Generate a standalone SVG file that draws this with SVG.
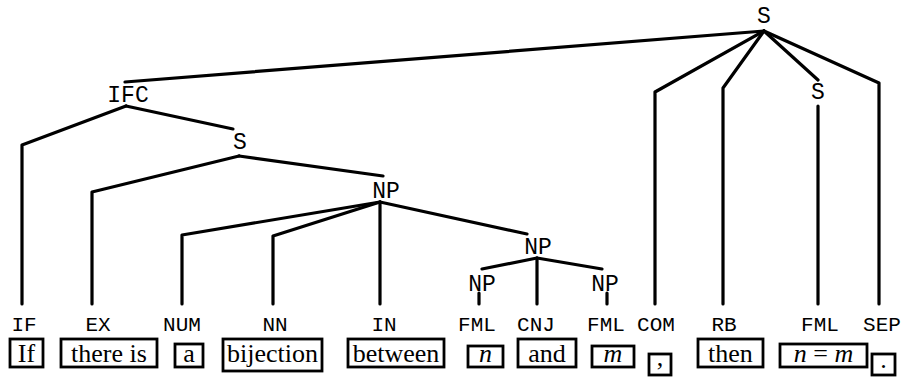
<svg xmlns="http://www.w3.org/2000/svg" width="902" height="378" viewBox="0 0 902 378">
<style>
.edge{stroke:#000;stroke-width:3.2;fill:none;stroke-linecap:round;stroke-linejoin:round}
.lbl{font-family:"Liberation Mono",monospace;font-size:23px;text-anchor:middle;fill:#000}
.tag{font-family:"Liberation Mono",monospace;font-size:21px;text-anchor:middle;fill:#000}
.box{fill:#fff;stroke:#000;stroke-width:2.8}
.word{font-family:"Liberation Serif",serif;font-size:26px;text-anchor:middle;fill:#000}
.math{font-style:italic}
</style>
<rect width="902" height="378" fill="#fff"/>
<g id="connectors">
<path class="edge" d="M764,31 L125,82"/>
<path class="edge" d="M764,31 L655,92 L655,304"/>
<path class="edge" d="M764,31 L723,88 L723,304"/>
<path class="edge" d="M764,31 L818,80"/>
<path class="edge" d="M818,106 L818,304"/>
<path class="edge" d="M764,31 L879,83 L879,304"/>
<path class="edge" d="M126,106 L22,145 L22,304"/>
<path class="edge" d="M126,106 L233,129"/>
<path class="edge" d="M239,156 L92,192 L92,304"/>
<path class="edge" d="M239,156 L383,176"/>
<path class="edge" d="M380,202 L182,235 L182,304"/>
<path class="edge" d="M380,202 L273,236 L273,304"/>
<path class="edge" d="M380,202 L380,304"/>
<path class="edge" d="M380,202 L527,234"/>
<path class="edge" d="M537,258 L482,269"/>
<path class="edge" d="M537,258 L537,304"/>
<path class="edge" d="M537,258 L602,269"/>
<path class="edge" d="M479,293 L479,304"/>
<path class="edge" d="M607,293 L607,304"/>
</g>
<g id="n-S-root"><text class="lbl" x="764" y="23">S</text></g>
<g id="n-IFC"><text class="lbl" x="128" y="102">IFC</text></g>
<g id="n-S-inner"><text class="lbl" x="240" y="149">S</text></g>
<g id="n-NP1"><text class="lbl" x="386" y="198">NP</text></g>
<g id="n-NP2"><text class="lbl" x="538" y="254">NP</text></g>
<g id="n-NP3"><text class="lbl" x="482" y="291">NP</text></g>
<g id="n-NP4"><text class="lbl" x="605" y="291">NP</text></g>
<g id="n-S-right"><text class="lbl" x="818" y="99">S</text></g>

<g id="leaf-if"><text class="tag" x="24" y="331">IF</text><rect class="box" x="10" y="339" width="33" height="28"/><text class="word" x="26.5" y="362">If</text></g>
<g id="leaf-there"><text class="tag" x="98" y="331">EX</text><rect class="box" x="61" y="339" width="96" height="28"/><text class="word" x="109" y="362">there is</text></g>
<g id="leaf-a"><text class="tag" x="182" y="331">NUM</text><rect class="box" x="175" y="344" width="28" height="23"/><text class="word" x="189" y="362">a</text></g>
<g id="leaf-bijection"><text class="tag" x="275" y="331">NN</text><rect class="box" x="223" y="339" width="99" height="32"/><text class="word" x="272.5" y="362">bijection</text></g>
<g id="leaf-between"><text class="tag" x="384" y="331">IN</text><rect class="box" x="348" y="339" width="96" height="28"/><text class="word" x="396" y="362">between</text></g>
<g id="leaf-n"><text class="tag" x="477" y="331">FML</text><rect class="box" x="468" y="346" width="35" height="21"/><text class="word math" x="485.5" y="362">n</text></g>
<g id="leaf-and"><text class="tag" x="536" y="331">CNJ</text><rect class="box" x="518" y="339" width="58" height="28"/><text class="word" x="547" y="362">and</text></g>
<g id="leaf-m"><text class="tag" x="606" y="331">FML</text><rect class="box" x="592" y="346" width="42" height="21"/><text class="word math" x="613" y="362">m</text></g>
<g id="leaf-comma"><text class="tag" x="656" y="331">COM</text><rect class="box" x="649" y="354" width="22" height="21"/><text class="word" x="660" y="366">,</text></g>
<g id="leaf-then"><text class="tag" x="724" y="331">RB</text><rect class="box" x="698" y="339" width="65" height="28"/><text class="word" x="730.5" y="362">then</text></g>
<g id="leaf-eq"><text class="tag" x="820" y="331">FML</text><rect class="box" x="780" y="344" width="87" height="23"/><text class="word" x="823.5" y="362"><tspan class="math">n</tspan> = <tspan class="math">m</tspan></text></g>
<g id="leaf-period"><text class="tag" x="882" y="331">SEP</text><rect class="box" x="872" y="354" width="23" height="21"/><text class="word" x="883.5" y="368">.</text></g>
</svg>
